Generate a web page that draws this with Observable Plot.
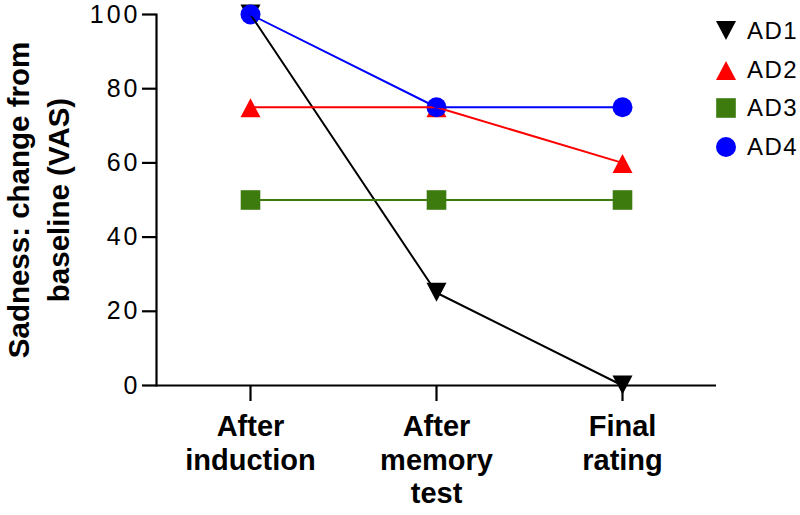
<!DOCTYPE html>
<html>
<head>
<meta charset="utf-8">
<script src="https://cdn.jsdelivr.net/npm/d3@7"></script>
<script src="https://cdn.jsdelivr.net/npm/@observablehq/plot@0.6"></script>
<style>
  html, body { margin: 0; padding: 0; background: #fff; }
  #wrap { position: relative; width: 800px; height: 515px; font-family: "Liberation Sans", Arial, Helvetica, sans-serif; }
  #legend { position: absolute; left: 714px; top: 12px; }
  .row { display: flex; align-items: center; height: 38.5px; }
  .row svg { width: 24px; height: 24px; overflow: visible; }
  .row span { font-size: 24px; letter-spacing: 1.5px; margin-left: 9px; color: #000; }
</style>
</head>
<body>
<div id="wrap"></div>
<script>
const categories = ["After induction", "After memory test", "Final rating"];
const categoryLabels = ["After\ninduction", "After\nmemory\ntest", "Final\nrating"];
const seriesNames = ["AD1", "AD2", "AD3", "AD4"];
const AD1 = [100, 25, 0];
const AD2 = [75, 75, 60];
const AD3 = [50, 50, 50];
const AD4 = [100, 75, 75];
const yTicks = [0, 20, 40, 60, 80, 100];
const yTitle = "Sadness: change from\nbaseline (VAS)";

const seriesValues = [AD1, AD2, AD3, AD4];
const colors = ["#000000", "#ff0000", "#3d7b0f", "#0000ff"];

const triDown = {draw(ctx, size) { const r = Math.sqrt(size / Math.PI); ctx.moveTo(-r, -r); ctx.lineTo(r, -r); ctx.lineTo(0, 0.9 * r); ctx.closePath(); }};
const triUp = {draw(ctx, size) { const r = Math.sqrt(size / Math.PI); ctx.moveTo(0, -0.9 * r); ctx.lineTo(r, r); ctx.lineTo(-r, r); ctx.closePath(); }};
const sq = {draw(ctx, size) { const r = Math.sqrt(size / Math.PI); ctx.rect(-r, -r, 2 * r, 2 * r); }};
const symbols = [triDown, triUp, sq, "circle"];
const radii = [10, 10, 9.8, 10];

const data = seriesNames.map((s, k) => categories.map((c, i) => ({series: s, cat: c, value: seriesValues[k][i]})));
const labelOf = new Map(categories.map((c, i) => [c, categoryLabels[i]]));

const font = "Liberation Sans, Arial, Helvetica, sans-serif";

const marks = [
  Plot.ruleY([0], {stroke: "#000", strokeWidth: 2.2}),
  Plot.frame({anchor: "left", stroke: "#000", strokeWidth: 2.2}),
  Plot.axisY({ticks: yTicks, tickSize: 14, tickPadding: 2, fontSize: 25, strokeWidth: 2.2, stroke: "#000", fill: "#000", label: null}),
  Plot.axisX({tickSize: 16, tickPadding: 11, fontSize: 29, fontWeight: "bold", lineHeight: 1.15, strokeWidth: 2.2, stroke: "#000", fill: "#000", label: null, tickFormat: d => labelOf.get(d)}),
  Plot.text([yTitle], {text: d => d, frameAnchor: "left", rotate: -90, dx: -120, fontSize: 29.5, fontWeight: "bold", lineHeight: 1.36, lineAnchor: "middle", textAnchor: "middle", fill: "#000"})
];
data.forEach((d, k) => {
  marks.push(Plot.dot(d, {x: "cat", y: "value", symbol: symbols[k], r: radii[k], fill: colors[k], stroke: "none"}));
});
data.forEach((d, k) => {
  marks.push(Plot.line(d, {x: "cat", y: "value", stroke: colors[k], strokeWidth: 2}));
});

const chart = Plot.plot({
  width: 800,
  height: 515,
  marginLeft: 156,
  marginRight: 84,
  marginTop: 14,
  marginBottom: 130,
  style: {fontFamily: font, background: "#fff", overflow: "visible"},
  x: {type: "point", domain: categories, padding: 0.5},
  y: {domain: [0, 100]},
  marks
});
chart.querySelectorAll('[aria-label="y-axis tick label"]').forEach(g => g.setAttribute("letter-spacing", "3"));
const wrap = document.getElementById("wrap");
wrap.appendChild(chart);

// legend
const legend = document.createElement("div");
legend.id = "legend";
const paths = [
  '<polygon points="-10,-10 10,-10 0,9" />',
  '<polygon points="0,-9 10,10 -10,10" />',
  '<rect x="-9.8" y="-9.8" width="19.6" height="19.6" />',
  '<circle r="10" />'
];
seriesNames.forEach((s, k) => {
  const row = document.createElement("div");
  row.className = "row";
  row.innerHTML = `<svg viewBox="-12 -12 24 24"><g fill="${colors[k]}">${paths[k]}</g></svg><span>${s}</span>`;
  legend.appendChild(row);
});
wrap.appendChild(legend);
</script>
</body>
</html>
